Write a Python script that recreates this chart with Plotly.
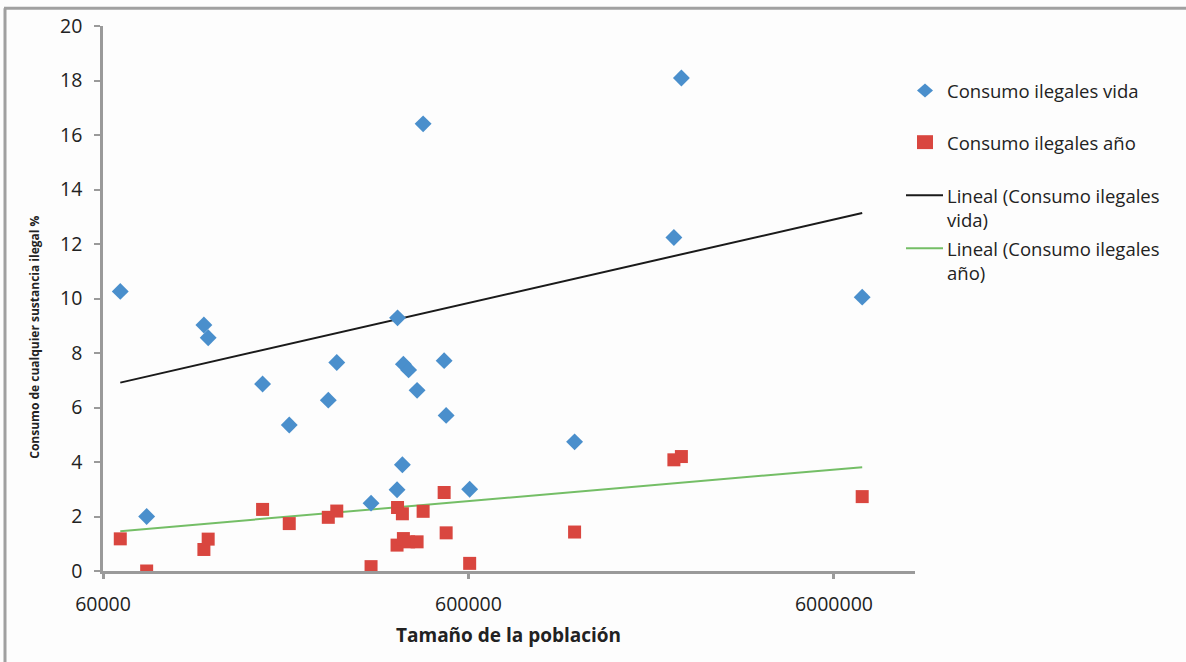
import numpy as np
import plotly.graph_objects as go

# Population of each territory (same x for both series)
poblacion = [66900, 79000, 113300, 116400, 164000, 194000, 248100, 261700,
             324800, 383800, 382600, 395700, 398200, 411500, 434100, 450900,
             514800, 521300, 604600, 1171000, 2189000, 2295000, 7170000]

# Lifetime illegal drug use (%)
consumo_vida = [10.26, 2.00, 9.03, 8.56, 6.86, 5.36, 6.27, 7.65,
                2.49, 9.29, 2.98, 3.90, 7.59, 7.38, 6.63, 16.41,
                7.72, 5.71, 3.00, 4.74, 12.24, 18.09, 10.05]

# Last-year illegal drug use (%)
consumo_anio = [1.18, 0.00, 0.79, 1.17, 2.26, 1.74, 1.97, 2.20,
                0.16, 2.33, 0.95, 2.10, 1.19, 1.07, 1.07, 2.19,
                2.88, 1.40, 0.28, 1.43, 4.08, 4.20, 2.73]

x_ticks = [60000, 600000, 6000000]
x_tick_labels = ["60000", "600000", "6000000"]

# Plot-area geometry in pixels
W, H = 1186, 662
PL, PR, PT, PB = 103, 915, 22, 571


def fx(p):
    return (p - PL) / (PR - PL)


def fy(p):
    return (PB - p) / (PB - PT)


BLUE = "#4a8fcc"
RED = "#d9463f"
GREEN = "#74be66"
BLACK = "#1a1a1a"
AXIS = "#9a9a9a"
TEXT = "#222222"
FONT = "Open Sans"

x_arr = np.array(poblacion, dtype=float)


def trend(yvals):
    # Ordinary least-squares line y = a + b*x, drawn as a segment
    # joining its values at the smallest and largest population.
    b, a = np.polyfit(x_arr, np.array(yvals, dtype=float), 1)
    xe = np.array([x_arr.min(), x_arr.max()])
    return xe, a + b * xe


fig = go.Figure()

tx, ty = trend(consumo_vida)
fig.add_trace(go.Scatter(x=tx, y=ty, mode="lines",
                         line=dict(color=BLACK, width=2), showlegend=False))
tx2, ty2 = trend(consumo_anio)
fig.add_trace(go.Scatter(x=tx2, y=ty2, mode="lines",
                         line=dict(color=GREEN, width=2), showlegend=False))

fig.add_trace(go.Scatter(x=poblacion, y=consumo_vida, mode="markers",
                         marker=dict(symbol="diamond", size=13, color=BLUE,
                                     line=dict(width=0)),
                         showlegend=False))
fig.add_trace(go.Scatter(x=poblacion, y=consumo_anio, mode="markers",
                         marker=dict(symbol="square", size=13, color=RED,
                                     line=dict(width=0)),
                         showlegend=False))

shapes = []
annotations = []

# Outer frame (left and top edges)
shapes.append(dict(type="line", xref="paper", yref="paper",
                   x0=fx(5), x1=fx(5), y0=fy(4), y1=fy(H + 5),
                   line=dict(color="#a0a0a0", width=3)))
shapes.append(dict(type="line", xref="paper", yref="paper",
                   x0=fx(4), x1=fx(W + 5), y0=fy(4), y1=fy(4),
                   line=dict(color="#a0a0a0", width=3)))

# Legend
LEG_SIZE = 18.5
leg_font = dict(family=FONT, size=LEG_SIZE, color=TEXT)
half_line = LEG_SIZE * 1.3 / 2
cx = 925
shapes.append(dict(type="path", xref="paper", yref="paper",
                   path="M {a},{b} L {c},{d} L {e},{b} L {c},{f} Z".format(
                       a=fx(cx - 8), b=fy(87), c=fx(cx), d=fy(80),
                       e=fx(cx + 8), f=fy(94)),
                   fillcolor=BLUE, line=dict(width=0)))
shapes.append(dict(type="rect", xref="paper", yref="paper",
                   x0=fx(cx - 8), x1=fx(cx + 8), y0=fy(132), y1=fy(146),
                   fillcolor=RED, line=dict(width=0)))
shapes.append(dict(type="line", xref="paper", yref="paper",
                   x0=fx(906), x1=fx(943), y0=fy(192.5), y1=fy(192.5),
                   line=dict(color=BLACK, width=2)))
shapes.append(dict(type="line", xref="paper", yref="paper",
                   x0=fx(906), x1=fx(943), y0=fy(246), y1=fy(246),
                   line=dict(color=GREEN, width=2)))

# (text, pixel y of first line, number of lines)
legend_items = [
    ("Consumo ilegales vida", 87, 1),
    ("Consumo ilegales año", 139, 1),
    ("Lineal (Consumo ilegales<br>vida)", 193, 2),
    ("Lineal (Consumo ilegales<br>año)", 246, 2),
]
for txt, ypix, n in legend_items:
    ymid = ypix + (n - 1) * half_line
    annotations.append(dict(text=txt, xref="paper", yref="paper",
                            x=fx(945), y=fy(ymid),
                            xanchor="left", yanchor="middle", align="left",
                            showarrow=False, font=leg_font))

# Axis titles
annotations.append(dict(text="<b>Tamaño de la población</b>",
                        xref="paper", yref="paper", x=fx(508), y=fy(635),
                        xanchor="center", yanchor="middle", showarrow=False,
                        font=dict(family=FONT, size=19, color=TEXT)))
annotations.append(dict(text="<b>Consumo de cualquier sustancia ilegal %</b>",
                        xref="paper", yref="paper", x=fx(35), y=fy(336),
                        xanchor="center", yanchor="middle", showarrow=False,
                        textangle=-90,
                        font=dict(family=FONT, size=12, color=TEXT)))

fig.update_layout(
    width=W, height=H,
    margin=dict(l=PL, r=W - PR, t=PT, b=H - PB, pad=0),
    paper_bgcolor="#fdfdfd", plot_bgcolor="#fdfdfd",
    shapes=shapes, annotations=annotations,
    showlegend=False,
)

fig.update_xaxes(
    type="log", range=[np.log10(60000), 7.0],
    tickvals=x_ticks, ticktext=x_tick_labels,
    showgrid=False, zeroline=False,
    showline=True, linecolor=AXIS, linewidth=2.5,
    ticks="outside", ticklen=5, tickwidth=2.5, tickcolor=AXIS,
    tickfont=dict(family=FONT, size=19.5, color=TEXT),
    ticklabelstandoff=9,
)
fig.update_yaxes(
    range=[0, 20], dtick=2, tick0=0,
    showgrid=False, zeroline=False,
    showline=True, linecolor=AXIS, linewidth=2.5,
    ticks="outside", ticklen=6, tickwidth=2, tickcolor=AXIS,
    tickfont=dict(family=FONT, size=19.5, color=TEXT),
    ticklabelstandoff=8,
)

fig.write_html("out.html")
